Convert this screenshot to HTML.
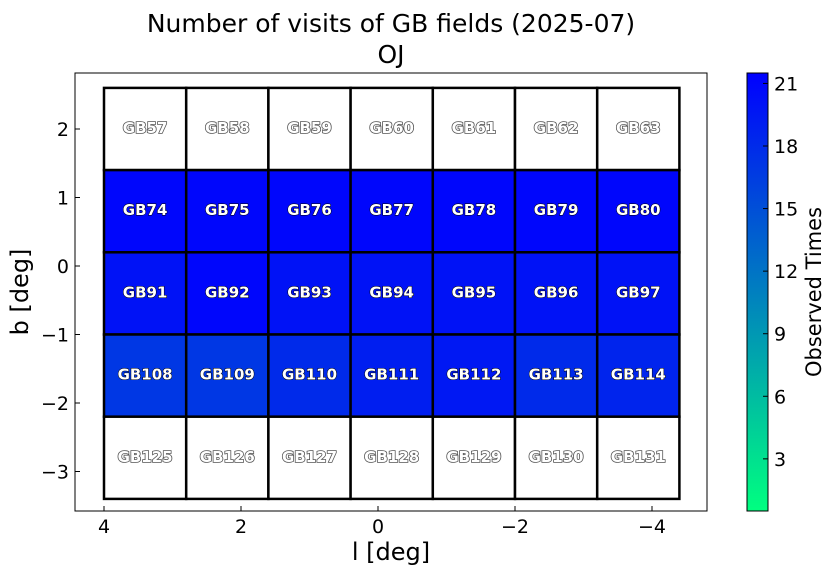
<!DOCTYPE html>
<html><head><meta charset="utf-8"><style>
body{margin:0;background:#fff;}
svg text{font-family:"DejaVu Sans","Liberation Sans",sans-serif;}
</style></head><body>
<svg id="c" width="835" height="575" xmlns="http://www.w3.org/2000/svg">
<text x="391" y="32" font-size="25" text-anchor="middle">Number of visits of GB fields (2025-07)</text>
<text x="391" y="63" font-size="25" text-anchor="middle">OJ</text>
<rect x="75" y="73" width="632" height="438" fill="none" stroke="#000" stroke-width="1"/>
<g id="cells"></g>
<g id="axes"></g>
<text x="391" y="560" font-size="24" text-anchor="middle">l [deg]</text>
<text transform="translate(28,292) rotate(-90)" font-size="24" text-anchor="middle">b [deg]</text>
<defs><linearGradient id="wg" x1="0" y1="1" x2="0" y2="0"><stop offset="0" stop-color="#00ff80"/><stop offset="1" stop-color="#0000ff"/></linearGradient></defs>
<rect x="747" y="73" width="21" height="438" fill="url(#wg)" stroke="#000" stroke-width="1"/>
<g id="cbticks"></g>
<text transform="translate(821,292) rotate(-90)" font-size="21" text-anchor="middle">Observed Times</text>
</svg>
<script>
const names=[[57,58,59,60,61,62,63],[74,75,76,77,78,79,80],[91,92,93,94,95,96,97],[108,109,110,111,112,113,114],[125,126,127,128,129,130,131]];
const counts=[[null,null,null,null,null,null,null],[21,21,21,21,21,21,21],[20,21,20,20,20,20,20],[17,17,18,19,19.5,18,18.5],[null,null,null,null,null,null,null]];
const xTicks=[4,2,0,-2,-4];
const yTicks=[2,1,0,-1,-2,-3];
const cbTicks=[3,6,9,12,15,18,21];
const NS="http://www.w3.org/2000/svg";
const X=l=>104+(4-l)*68.5;
const Y=b=>129+(2-b)*68.5;
const vmin=0.5,vmax=21.5;
const CY=v=>511-(v-vmin)/(vmax-vmin)*438;
function col(v){const t=Math.max(0,Math.min(1,(v-vmin)/(vmax-vmin)));return `rgb(0,${Math.round(255*(1-t))},${Math.round(255*(0.5+0.5*t))})`;}
function mk(tag,at,p){const e=document.createElementNS(NS,tag);for(const k in at)e.setAttribute(k,at[k]);p.appendChild(e);return e;}
const cells=document.getElementById('cells');
names.forEach((row,r)=>row.forEach((n,c)=>{
  const l0=4-c*1.2,b0=2.6-r*1.2,v=counts[r][c];
  const g=mk('g',{},cells);
  
  
  const rc=mk('rect',{x:X(l0),y:Y(b0),width:X(l0-1.2)-X(l0),height:Y(b0-1.2)-Y(b0),fill:v==null?'#fff':col(v),stroke:'#000','stroke-width':2.5},g);
  
  
  const t=mk('text',{x:X(l0-0.6),y:Y(b0-0.6)+4,'font-size':15,'font-weight':'bold','text-anchor':'middle',fill:'#fff',stroke:v==null?'#555':'#000','stroke-width':v==null?1.6:1,'paint-order':'stroke'},g);
  t.textContent='GB'+n;
  
  
}));
const ax=document.getElementById('axes');
const fmt=v=>v<0?'\u2212'+(-v):''+v;
xTicks.forEach(v=>{
  const ln=mk('line',{x1:X(v),x2:X(v),y1:511,y2:506,stroke:'#000'},ax);
  
  
  const t=mk('text',{x:X(v),y:533,'font-size':19,'text-anchor':'middle'},ax);t.textContent=fmt(v);
  
  
});
yTicks.forEach(v=>{
  const ln=mk('line',{x1:75,x2:80,y1:Y(v),y2:Y(v),stroke:'#000'},ax);
  
  
  const t=mk('text',{x:69,y:Y(v)+7,'font-size':19,'text-anchor':'end'},ax);t.textContent=fmt(v);
  
  
});
const cb=document.getElementById('cbticks');
cbTicks.forEach(v=>{
  const ln=mk('line',{x1:763,x2:768,y1:CY(v),y2:CY(v),stroke:'#000'},cb);
  
  
  const t=mk('text',{x:774,y:CY(v)+7,'font-size':19},cb);t.textContent=v;
  
  
});
</script>
</body></html>
